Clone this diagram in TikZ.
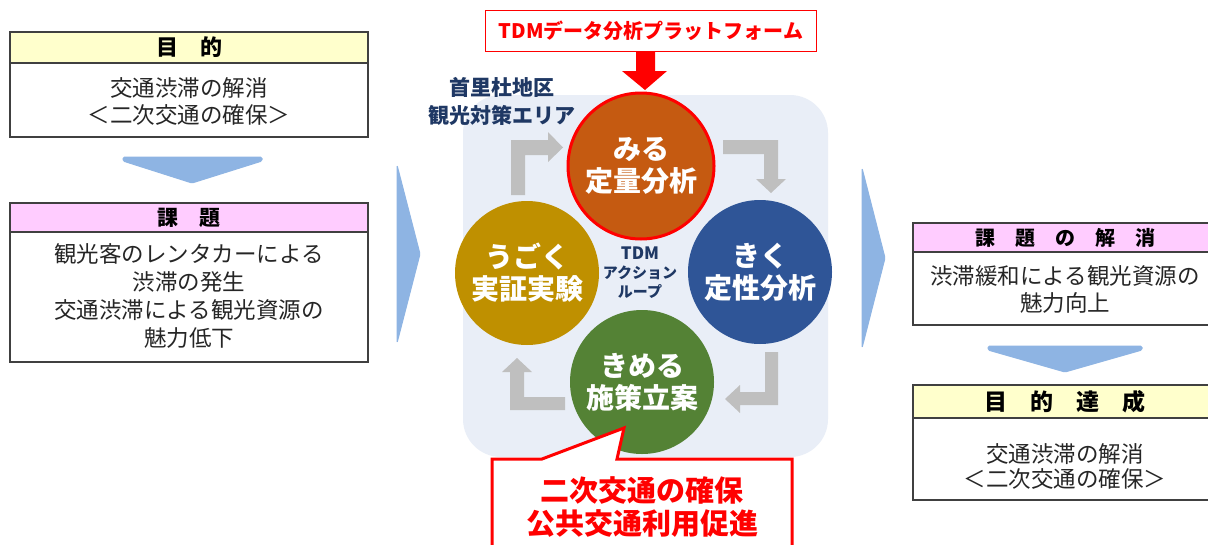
\documentclass[tikz,border=0pt]{standalone}
\usepackage{fontspec}
\setmainfont{Noto Sans CJK JP}
\definecolor{hdryellow}{RGB}{255,255,204}
\definecolor{hdrpink}{RGB}{255,204,255}
\definecolor{arrowblue}{RGB}{142,180,227}
\definecolor{panel}{RGB}{233,238,247}
\definecolor{loopgray}{RGB}{191,191,191}
\definecolor{miru}{RGB}{197,90,17}
\definecolor{kiku}{RGB}{47,85,151}
\definecolor{ugoku}{RGB}{191,144,0}
\definecolor{kimeru}{RGB}{84,130,53}
\definecolor{navy}{RGB}{31,56,100}
\definecolor{brightred}{RGB}{255,0,0}
\tikzset{
  box/.style={draw=black!75, line width=1.3pt, inner sep=0pt},
  hdr/.style={draw=black!75, line width=1.3pt, inner sep=0pt, font=\bfseries\fontsize{21}{25}\selectfont},
  body/.style={align=center, text=black!85, inner sep=0pt, font=\fontsize{22.5}{27}\selectfont},
  bluearrow/.style={fill=arrowblue, draw=arrowblue, line width=1pt, rounded corners=1.5pt, line join=round},
  grayarrow/.style={fill=loopgray},
  stage/.style={circle, minimum size=144pt, inner sep=0pt, align=center, text=white, font=\bfseries\fontsize{28}{32}\selectfont},
}
\begin{document}
\begin{tikzpicture}[x=1pt,y=-1pt]
\clip (0,0) rectangle (1208,544);
\fill[white] (0,0) rectangle (1208,544);

% ---------- left column ----------
\node[box, minimum width=358pt, minimum height=105pt] (goal) at (189,84.5) {};
\node[hdr, fill=hdryellow, minimum width=358pt, minimum height=31pt, font=\bfseries\fontsize{22}{26}\selectfont] (goalh) at (189,47.5) {目　的};
\node[body] (goalt) at (189,101) {交通渋滞の解消\\＜二次交通の確保＞};

\draw[bluearrow] (123,157) -- (262,157) -- (262,161) -- (192,183) -- (123,161) -- cycle;

\node[box, minimum width=358pt, minimum height=159pt] (issue) at (189,282.5) {};
\node[hdr, fill=hdrpink, minimum width=358pt, minimum height=29pt] (issueh) at (189,217.5) {課　題};
\node[body, font=\fontsize{22.5}{28}\selectfont] (issuet) at (189,296) {観光客のレンタカーによる\\渋滞の発生\\交通渋滞による観光資源の\\魅力低下};

% ---------- chevrons ----------
\draw[bluearrow] (397,165) -- (420,254) -- (397,343) -- cycle;
\draw[bluearrow] (862,168) -- (885,258) -- (862,348) -- cycle;

% ---------- central panel ----------
\fill[panel, rounded corners=38pt] (463,95) rectangle (828,457);

\node[draw=brightred, line width=1.2pt, fill=white, minimum width=331pt, minimum height=41pt, inner sep=0pt,
      text=brightred, font=\bfseries\fontsize{20}{24}\selectfont] (tdm) at (651,31) {TDMデータ分析プラットフォーム};
\fill[brightred] (636,52) -- (655,52) -- (655,71) -- (667,71) -- (645,90) -- (622,71) -- (636,71) -- cycle;

\node[align=center, text=navy, inner sep=0pt, font=\bfseries\fontsize{21}{28}\selectfont] (area) at (502,101) {首里杜地区\\観光対策エリア};

% gray loop arrows
\fill[grayarrow] (511,195) -- (511,140) -- (548,140) -- (548,132) -- (563,147.5) -- (548,162) -- (548,155) -- (525,155) -- (525,195) -- cycle;
\fill[grayarrow] (723,140) -- (778,140) -- (778,179) -- (786,179) -- (771,193) -- (756,179) -- (764,179) -- (764,154) -- (723,154) -- cycle;
\fill[grayarrow] (778,352) -- (778,405) -- (740,405) -- (740,413) -- (725,399) -- (740,385) -- (740,392) -- (765,392) -- (765,352) -- cycle;
\fill[grayarrow] (565,397) -- (565,410) -- (510,410) -- (510,372) -- (502,372) -- (517,358) -- (532,372) -- (524,372) -- (524,397) -- cycle;

% circles
\node[stage, fill=miru, draw=brightred, line width=3pt, minimum size=146pt] (miru) at (641,166) {みる\\定量分析};
\node[stage, fill=kiku] (kiku) at (760,272) {きく\\定性分析};
\node[stage, fill=ugoku] (ugoku) at (527,273) {うごく\\実証実験};
\node[stage, fill=kimeru] (kimeru) at (642,382) {きめる\\施策立案};

\node[align=center, text=navy, inner sep=0pt, font=\bfseries\fontsize{15}{19}\selectfont] (loop) at (640,273) {{\fontsize{17}{19}\selectfont TDM}\\アクション\\ループ};

% callout
\draw[brightred, line width=3pt, fill=white, line join=miter] (492,560) -- (492,459) -- (542,459) -- (624,428) -- (617,459) -- (792,459) -- (792,560);
\node[align=center, text=brightred, inner sep=0pt, font=\bfseries\fontsize{29}{33}\selectfont] (callt) at (642,507) {二次交通の確保\\公共交通利用促進};

% ---------- right column ----------
\node[box, minimum width=304pt, minimum height=102pt] (solve) at (1065,274) {};
\node[hdr, fill=hdrpink, minimum width=304pt, minimum height=29pt, font=\bfseries\fontsize{20}{24}\selectfont] (solveh) at (1065,237.5) {課　題　の　解　消};
\node[body] (solvet) at (1065,289) {渋滞緩和による観光資源の\\魅力向上};

\draw[bluearrow] (988,346) -- (1142,346) -- (1142,350) -- (1065,372) -- (988,350) -- cycle;

\node[box, minimum width=304pt, minimum height=115pt] (done) at (1065,442.5) {};
\node[hdr, fill=hdryellow, minimum width=304pt, minimum height=33pt, font=\bfseries\fontsize{23}{27}\selectfont] (doneh) at (1065,401.5) {目　的　達　成};
\node[body, font=\fontsize{22.5}{25}\selectfont] (donet) at (1065,466) {交通渋滞の解消\\＜二次交通の確保＞};
\end{tikzpicture}
\end{document}
